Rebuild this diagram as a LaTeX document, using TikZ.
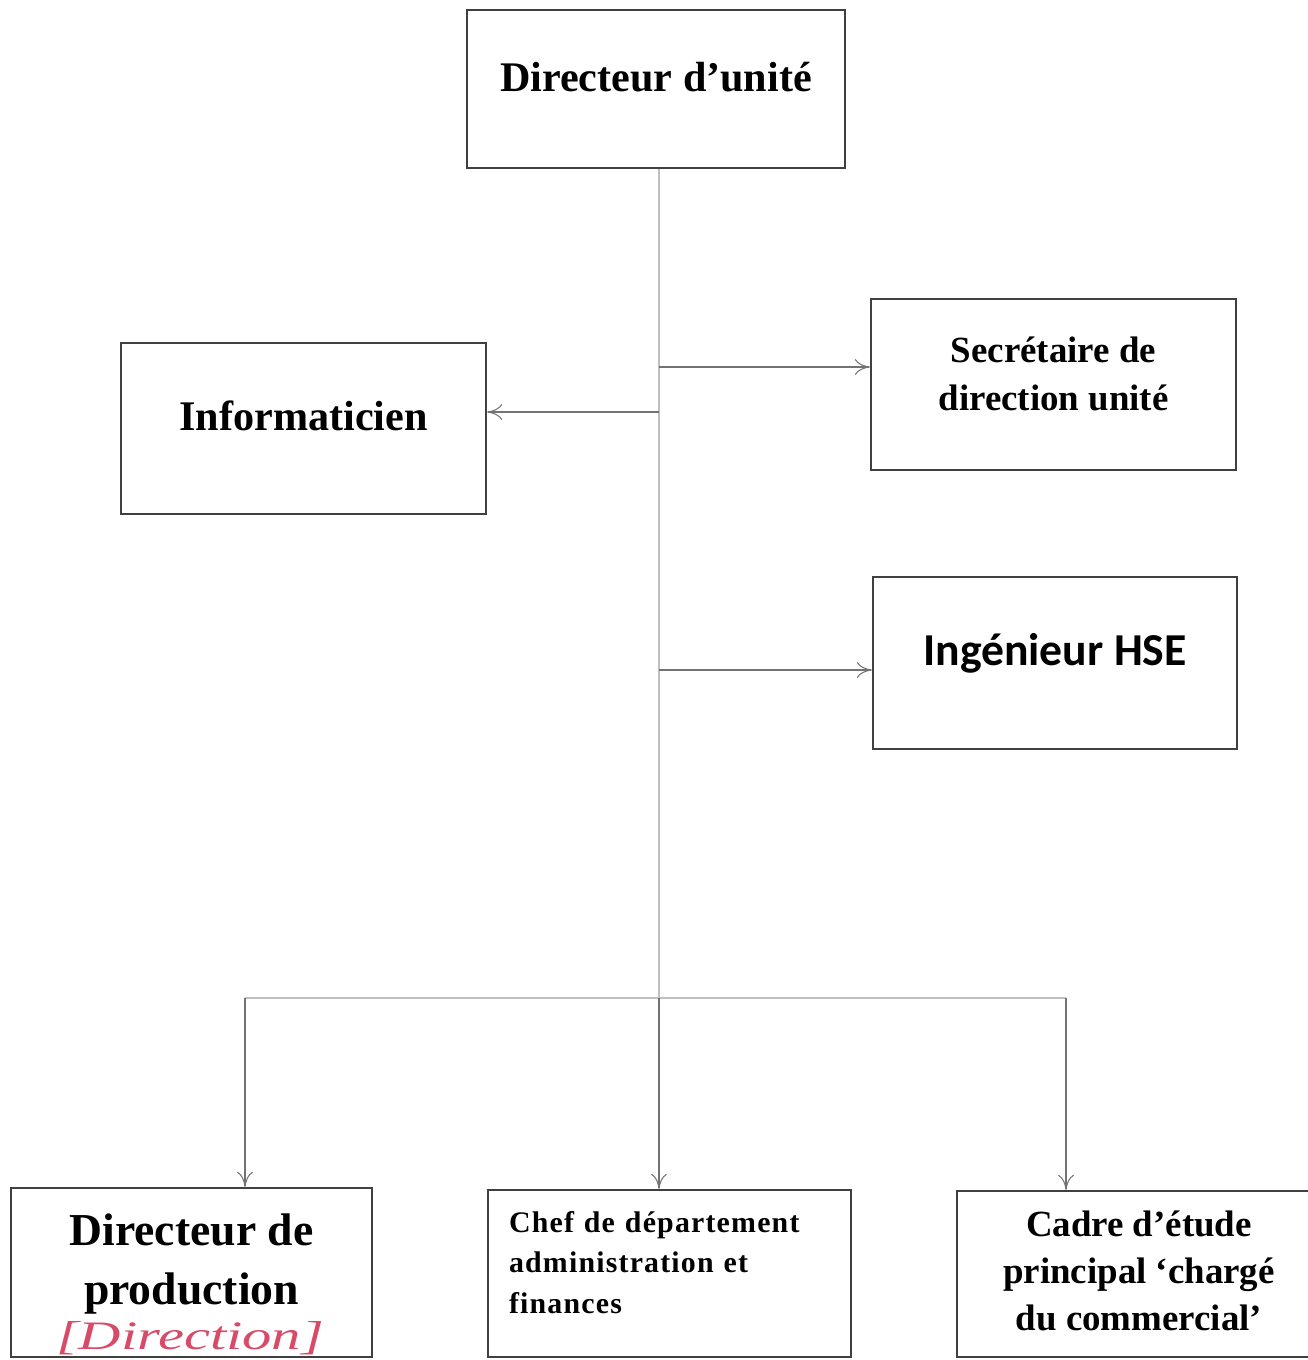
\documentclass[tikz,border=0pt]{standalone}
\usepackage{fontspec}
\setmainfont{Liberation Serif}
\newfontfamily\hsefont{Carlito}
\usepackage{tikz}
\usetikzlibrary{arrows.meta}
\definecolor{ink}{RGB}{215,75,105}
\tikzset{
    BX/.style ={rectangle, draw=black!75, line width=1.4pt, inner sep=0pt},
    F24/.style={font=\bfseries\fontsize{24}{28}\selectfont},
    F21/.style={font=\bfseries\fontsize{21}{27.3}\selectfont, align=center},
    TR/.style ={draw=black!25, line width=0.6pt},
    AR/.style ={draw=black!55, line width=0.6pt, -{To[length=8.5pt,width=9pt]}}
}
\begin{document}
\begin{tikzpicture}[x=0.02cm, y=-0.02cm]
    \useasboundingbox (0,0) rectangle (1308,1360);
    % top and staff boxes
    \node[BX,F24,minimum width=7.56cm,text height=1.62cm,text depth=1.54cm] (dir) at (656,89) {Directeur d’unité};
    \node[BX,F24,minimum width=7.3cm,text height=1.74cm,text depth=1.68cm] (info) at (303.5,428.5) {Informaticien};
    \node[BX,F21,minimum width=7.3cm,text height=2.22cm,text depth=1.2cm] (sec) at (1053.5,384.5) {Secrétaire de\\direction unité};
    \node[BX,minimum width=7.28cm,text height=1.76cm,text depth=1.68cm,font=\hsefont\bfseries\fontsize{26}{30}\selectfont] (hse) at (1055,663) {Ingénieur HSE};
    % bottom row
    \node[BX,minimum width=7.22cm,text height=2.32cm,text depth=1.06cm,align=center,font=\bfseries\fontsize{26}{33.5}\selectfont] (prod) at (191.5,1272.5) {Directeur de\\production};
    \node[BX,minimum width=7.26cm,text width=6.42cm,text height=0.84cm,text depth=2.5cm,align=left,font=\bfseries\fontsize{17}{23.3}\selectfont\addfontfeature{LetterSpace=4}] (chef) at (669.5,1273.5) {Chef de département\\administration et\\finances};
    \node[BX,F21,minimum width=7.28cm,text height=2.78cm,text depth=0.54cm,font=\bfseries\fontsize{21}{26.7}\selectfont] (cad) at (1139,1274) {Cadre d’étude\\principal ‘chargé\\du commercial’};
    \node[text=ink,font=\itshape\fontsize{23}{23}\selectfont,inner sep=0pt] (note) at (190,1338) {\scalebox{1.45}[1]{[Direction]}};
    % trunk
    \coordinate (j) at (659,998);
    \coordinate (jl) at (245,998);
    \coordinate (jr) at (1066,998);
    \coordinate (ks) at (659,367);
    \coordinate (ki) at (659,412);
    \coordinate (kh) at (659,670);
    \draw[TR] (dir.south -| j) -- (j);
    \draw[TR] (jl) -- (jr);
    \draw[AR] (ks) -- (ks -| sec.west);
    \draw[AR] (ki) -- (ki -| info.east);
    \draw[AR] (kh) -- (kh -| hse.west);
    \draw[AR] (jl) -- (jl |- prod.north);
    \draw[AR] (j) -- (j |- chef.north);
    \draw[AR] (jr) -- (jr |- cad.north);
\end{tikzpicture}
\end{document}
